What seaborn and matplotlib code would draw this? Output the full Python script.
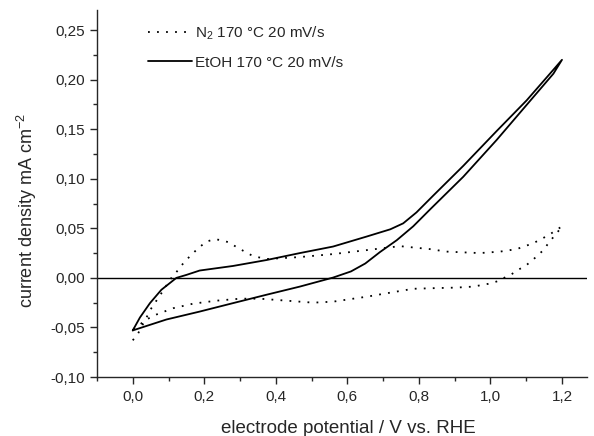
import matplotlib as mpl
mpl.use("Agg")
import matplotlib.pyplot as plt
import pandas as pd
import seaborn as sns
from matplotlib.ticker import FuncFormatter, MultipleLocator

# cyclic voltammograms (potential in V vs RHE, current in mA cm-2)
n2_x = [0.0, 0.015, 0.052, 0.08, 0.108, 0.127, 0.145, 0.183, 0.206, 0.229, 0.248,
        0.271, 0.29, 0.313, 0.336, 0.374, 0.467, 0.56, 0.654, 0.747, 0.831, 0.877,
        0.97, 1.027, 1.073, 1.12, 1.162, 1.2,
        1.183, 1.166, 1.148, 1.124, 1.101, 1.081, 1.059, 1.038, 1.017, 0.994, 0.952,
        0.905, 0.84, 0.784, 0.738, 0.654, 0.56, 0.504, 0.43, 0.355, 0.30, 0.234,
        0.169, 0.113, 0.066, 0.038, 0.02, 0.0]
n2_y = [-0.063, -0.056, -0.0306, -0.0155, 0.0, 0.008, 0.0165, 0.030, 0.0366, 0.039, 0.038,
        0.0356, 0.031, 0.0265, 0.022, 0.019, 0.021, 0.024, 0.028, 0.032, 0.029, 0.0265,
        0.025, 0.0265, 0.029, 0.035, 0.043, 0.052,
        0.044, 0.037, 0.028, 0.020, 0.013, 0.0088, 0.0037, 0.0, -0.0037, -0.006, -0.0088,
        -0.0098, -0.0104, -0.011, -0.0138, -0.019, -0.024, -0.025, -0.023, -0.021, -0.021, -0.023,
        -0.026, -0.0306, -0.037, -0.042, -0.047, -0.052]

etoh_x = [0.0, 0.02, 0.048, 0.08, 0.122, 0.15, 0.187, 0.28, 0.374, 0.467, 0.56,
          0.654, 0.72, 0.756, 0.793, 0.84, 0.924, 1.017, 1.101, 1.176, 1.2,
          1.176, 1.10, 1.017, 0.924, 0.831, 0.784, 0.738, 0.691, 0.65, 0.61, 0.56,
          0.467, 0.374, 0.28, 0.187, 0.094, 0.0]
etoh_y = [-0.053, -0.040, -0.0255, -0.012, 0.0, 0.003, 0.0074, 0.012, 0.018, 0.025, 0.0316,
          0.0417, 0.049, 0.055, 0.066, 0.083, 0.113, 0.148, 0.179, 0.21, 0.22,
          0.206, 0.174, 0.139, 0.102, 0.069, 0.052, 0.038, 0.026, 0.0145, 0.0065, 0.0003,
          -0.0088, -0.017, -0.0255, -0.034, -0.042, -0.053]

LABEL_N2 = r"N$_2$ 170 °C 20 mV/s"
LABEL_ETOH = "EtOH 170 °C 20 mV/s"

sns.set_style("ticks")
plt.rcParams.update({
    "font.family": ["Liberation Sans", "DejaVu Sans"],
    "mathtext.fontset": "custom",
    "mathtext.rm": "Liberation Sans",
    "font.size": 11,
    "axes.linewidth": 1.0,
    "xtick.direction": "out",
    "ytick.direction": "out",
})


def comma(fmt):
    return FuncFormatter(lambda v, _: format(v, fmt).replace(".", ","))


def main():
    n2 = pd.DataFrame({"E": n2_x, "j": n2_y})
    etoh = pd.DataFrame({"E": etoh_x, "j": etoh_y})

    fig = plt.figure(figsize=(5.94, 4.36), dpi=100)
    ax = fig.add_axes([0.1633, 0.1353, 0.825, 0.8413])

    sns.lineplot(data=n2, x="E", y="j", sort=False, estimator=None, color="black",
                 linewidth=1.3, linestyle=(0, (1, 4)), label=LABEL_N2, ax=ax)
    sns.lineplot(data=etoh, x="E", y="j", sort=False, estimator=None, color="black",
                 linewidth=1.3, label=LABEL_ETOH, ax=ax)
    ax.axhline(0, color="black", linewidth=1.0)

    ax.set_xlim(-0.1, 1.27)
    ax.set_ylim(-0.10, 0.27)
    ax.xaxis.set_major_locator(MultipleLocator(0.2))
    ax.xaxis.set_minor_locator(MultipleLocator(0.1))
    ax.yaxis.set_major_locator(MultipleLocator(0.05))
    ax.yaxis.set_minor_locator(MultipleLocator(0.025))
    ax.xaxis.set_major_formatter(comma(".1f"))
    ax.yaxis.set_major_formatter(comma(".2f"))
    ax.tick_params(which="major", length=5, width=1.0, labelsize=11)
    ax.tick_params(axis="x", which="major", pad=4)
    ax.tick_params(which="minor", length=3, width=1.0)
    for s in ("top", "right"):
        ax.spines[s].set_visible(False)

    ax.set_xlabel("electrode potential / V vs. RHE", fontsize=13.5)
    ax.xaxis.set_label_coords(0.512, -0.118)
    ax.set_ylabel("current density mA cm$^{-2}$", fontsize=13)
    ax.yaxis.set_label_coords(-0.118, 0.4526)

    ax.legend(loc="upper left", bbox_to_anchor=(0.104, 0.962), frameon=False,
              fontsize=11, handlelength=2.9, handletextpad=0.15, labelspacing=0.9,
              borderpad=0, borderaxespad=0)

    fig.savefig("out.png", dpi=100)


if __name__ == "__main__":
    main()
